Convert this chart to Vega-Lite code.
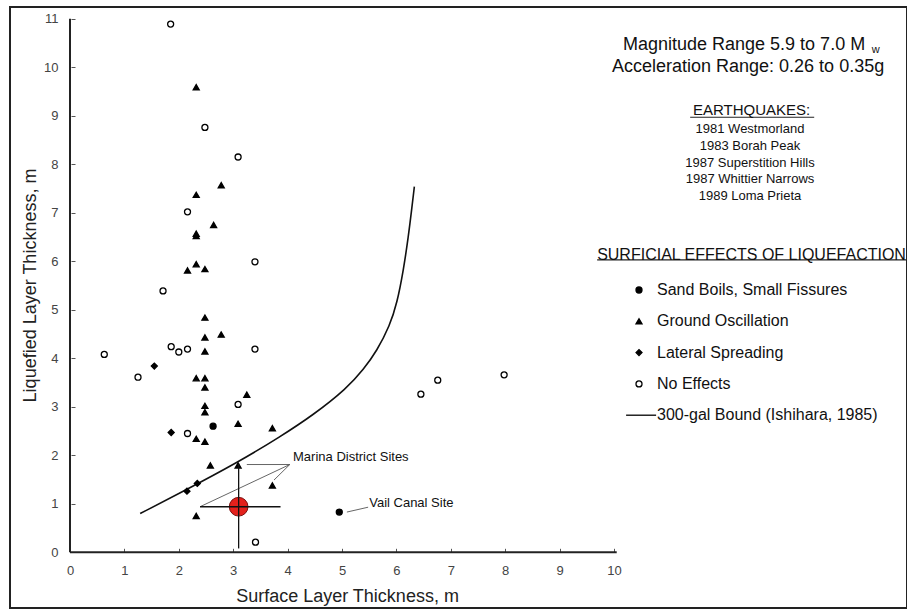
{
  "$schema": "https://vega.github.io/schema/vega-lite/v6.json",
  "width": 897,
  "height": 601,
  "autosize": {"type": "none"},
  "padding": {"left": 10, "top": 7, "right": 0, "bottom": 4},
  "background": "white",
  "config": {
    "view": {"stroke": "#222", "strokeWidth": 2},
    "font": "Liberation Sans"
  },
  "datasets": {
    "pts": [
      {"x": 1.85, "y": 10.89, "effect": "No Effects"},
      {"x": 2.48, "y": 8.76, "effect": "No Effects"},
      {"x": 3.09, "y": 8.15, "effect": "No Effects"},
      {"x": 2.16, "y": 7.02, "effect": "No Effects"},
      {"x": 3.40, "y": 5.99, "effect": "No Effects"},
      {"x": 1.71, "y": 5.39, "effect": "No Effects"},
      {"x": 0.63, "y": 4.08, "effect": "No Effects"},
      {"x": 1.86, "y": 4.24, "effect": "No Effects"},
      {"x": 2.00, "y": 4.13, "effect": "No Effects"},
      {"x": 2.16, "y": 4.19, "effect": "No Effects"},
      {"x": 3.40, "y": 4.19, "effect": "No Effects"},
      {"x": 1.25, "y": 3.61, "effect": "No Effects"},
      {"x": 3.09, "y": 3.05, "effect": "No Effects"},
      {"x": 2.16, "y": 2.45, "effect": "No Effects"},
      {"x": 3.41, "y": 0.21, "effect": "No Effects"},
      {"x": 6.45, "y": 3.26, "effect": "No Effects"},
      {"x": 6.76, "y": 3.55, "effect": "No Effects"},
      {"x": 7.98, "y": 3.66, "effect": "No Effects"},
      {"x": 2.32, "y": 9.59, "effect": "Ground Oscillation"},
      {"x": 2.78, "y": 7.57, "effect": "Ground Oscillation"},
      {"x": 2.32, "y": 7.37, "effect": "Ground Oscillation"},
      {"x": 2.64, "y": 6.75, "effect": "Ground Oscillation"},
      {"x": 2.32, "y": 6.52, "effect": "Ground Oscillation"},
      {"x": 2.32, "y": 6.57, "effect": "Ground Oscillation"},
      {"x": 2.32, "y": 5.94, "effect": "Ground Oscillation"},
      {"x": 2.16, "y": 5.81, "effect": "Ground Oscillation"},
      {"x": 2.48, "y": 5.84, "effect": "Ground Oscillation"},
      {"x": 2.48, "y": 4.84, "effect": "Ground Oscillation"},
      {"x": 2.48, "y": 4.43, "effect": "Ground Oscillation"},
      {"x": 2.78, "y": 4.49, "effect": "Ground Oscillation"},
      {"x": 2.48, "y": 4.14, "effect": "Ground Oscillation"},
      {"x": 2.32, "y": 3.59, "effect": "Ground Oscillation"},
      {"x": 2.48, "y": 3.59, "effect": "Ground Oscillation"},
      {"x": 2.48, "y": 3.40, "effect": "Ground Oscillation"},
      {"x": 3.25, "y": 3.25, "effect": "Ground Oscillation"},
      {"x": 2.48, "y": 3.02, "effect": "Ground Oscillation"},
      {"x": 2.48, "y": 2.89, "effect": "Ground Oscillation"},
      {"x": 3.09, "y": 2.65, "effect": "Ground Oscillation"},
      {"x": 3.72, "y": 2.56, "effect": "Ground Oscillation"},
      {"x": 2.32, "y": 2.34, "effect": "Ground Oscillation"},
      {"x": 2.48, "y": 2.28, "effect": "Ground Oscillation"},
      {"x": 2.58, "y": 1.79, "effect": "Ground Oscillation"},
      {"x": 3.09, "y": 1.79, "effect": "Ground Oscillation"},
      {"x": 3.72, "y": 1.38, "effect": "Ground Oscillation"},
      {"x": 2.32, "y": 0.75, "effect": "Ground Oscillation"},
      {"x": 1.55, "y": 3.84, "effect": "Lateral Spreading"},
      {"x": 1.86, "y": 2.47, "effect": "Lateral Spreading"},
      {"x": 2.34, "y": 1.42, "effect": "Lateral Spreading"},
      {"x": 2.15, "y": 1.26, "effect": "Lateral Spreading"},
      {"x": 2.63, "y": 2.60, "effect": "Sand Boils, Small Fissures"},
      {"x": 4.95, "y": 0.83, "effect": "Sand Boils, Small Fissures"}
    ],
    "bound": [
      {"x": 1.29, "y": 0.80},
      {"x": 2.02, "y": 1.22},
      {"x": 3.11, "y": 1.87},
      {"x": 3.86, "y": 2.38},
      {"x": 4.47, "y": 2.83},
      {"x": 5.09, "y": 3.38},
      {"x": 5.40, "y": 3.78},
      {"x": 5.64, "y": 4.15},
      {"x": 5.88, "y": 4.68},
      {"x": 6.01, "y": 5.13},
      {"x": 6.13, "y": 5.82},
      {"x": 6.22, "y": 6.51},
      {"x": 6.28, "y": 7.06},
      {"x": 6.33, "y": 7.54}
    ],
    "axislines": [
      {"x": 0, "y": 0, "x2": 10.05, "y2": 0},
      {"x": 0, "y": 0, "x2": 0, "y2": 11}
    ],
    "pointers": [
      {"x": 4.04, "y": 1.81, "x2": 3.25, "y2": 1.81},
      {"x": 4.04, "y": 1.81, "x2": 3.75, "y2": 1.49},
      {"x": 4.04, "y": 1.81, "x2": 2.39, "y2": 0.94},
      {"x": 5.09, "y": 0.83, "x2": 5.48, "y2": 0.93}
    ],
    "cross": [
      {"x": 2.39, "y": 0.94, "x2": 3.87, "y2": 0.94},
      {"x": 3.10, "y": 1.83, "x2": 3.10, "y2": 0.08}
    ],
    "underlines": [
      {"x": 11.40, "y": 8.97, "x2": 13.68, "y2": 8.97},
      {"x": 9.69, "y": 6.03, "x2": 15.38, "y2": 6.03}
    ],
    "marker": [{"x": 3.10, "y": 0.94}],
    "hdr": [
      {"x": 10.165, "y": 10.46, "text": "Magnitude Range 5.9 to 7.0 M"},
      {"x": 9.963, "y": 10.01, "text": "Acceleration Range: 0.26 to 0.35g"}
    ],
    "sub": [{"x": 14.74, "y": 10.36, "text": "w"}],
    "eqhead": [{"x": 12.53, "y": 9.12, "text": "EARTHQUAKES:"}],
    "eqlist": [
      {"x": 12.50, "y": 8.72, "text": "1981 Westmorland"},
      {"x": 12.50, "y": 8.37, "text": "1983 Borah Peak"},
      {"x": 12.50, "y": 8.02, "text": "1987 Superstition Hills"},
      {"x": 12.50, "y": 7.69, "text": "1987 Whittier Narrows"},
      {"x": 12.50, "y": 7.34, "text": "1989 Loma Prieta"}
    ],
    "legtitle": [{"x": 9.69, "y": 6.13, "text": "SURFICIAL EFFECTS OF LIQUEFACTION"}],
    "notes": [
      {"x": 4.10, "y": 1.96, "text": "Marina District Sites"},
      {"x": 5.50, "y": 1.01, "text": "Vail Canal Site"}
    ]
  },
  "encoding": {
    "x": {
      "field": "x", "type": "quantitative",
      "scale": {"domain": [-1.103, 15.386], "nice": false, "zero": false},
      "axis": {
        "values": [0, 1, 2, 3, 4, 5, 6, 7, 8, 9, 10],
        "domain": false, "grid": false, "offset": -55.7,
        "tickSize": -4, "tickColor": "#555", "tickWidth": 1,
        "labelPadding": 16, "labelFontSize": 13, "labelColor": "#444", "labelFont": "Liberation Sans",
        "labelFlush": false, "labelOverlap": false,
        "title": "Surface Layer Thickness, m", "titleFontSize": 18, "titleFontWeight": "normal",
        "titleFont": "Liberation Sans", "titleColor": "#222",
        "titleX": 337, "titleY": 44, "titleBaseline": "middle", "titleAlign": "center", "titleAngle": 0
      }
    },
    "y": {
      "field": "y", "type": "quantitative",
      "scale": {"domain": [-1.148, 11.243], "nice": false, "zero": false},
      "axis": {
        "values": [0, 1, 2, 3, 4, 5, 6, 7, 8, 9, 10, 11],
        "domain": false, "grid": false, "offset": -61,
        "tickSize": -4, "tickColor": "#555", "tickWidth": 1,
        "labelPadding": 17, "labelFontSize": 13, "labelColor": "#444", "labelFont": "Liberation Sans",
        "labelFlush": false, "labelOverlap": false,
        "title": "Liquefied Layer Thickness, m", "titleFontSize": 18, "titleFontWeight": "normal",
        "titleFont": "Liberation Sans", "titleColor": "#222",
        "titleX": -41, "titleY": 278, "titleBaseline": "middle", "titleAlign": "center", "titleAngle": -90
      }
    }
  },
  "layer": [
    {
      "data": {"name": "axislines"},
      "mark": {"type": "rule", "color": "#222", "strokeWidth": 2},
      "encoding": {"x2": {"field": "x2"}, "y2": {"field": "y2"}}
    },
    {
      "data": {"name": "bound"},
      "mark": {"type": "line", "color": "#111", "strokeWidth": 1.6, "interpolate": "basis"},
      "encoding": {}
    },
    {
      "data": {"name": "pts"},
      "mark": {"type": "point", "strokeWidth": 1.3, "opacity": 1, "size": 36},
      "encoding": {
        "shape": {
          "field": "effect", "type": "nominal",
          "scale": {
            "domain": ["Sand Boils, Small Fissures", "Ground Oscillation", "Lateral Spreading", "No Effects", "300-gal Bound (Ishihara, 1985)"],
            "range": ["circle", "triangle-up", "diamond", "circle", "M-4.3,0L5.7,0"]
          },
          "legend": {"orient": "none", "legendX": 621, "legendY": 275, "title": null, "padding": 0,
            "labelFontSize": 16, "labelFont": "Liberation Sans", "labelColor": "#111", "labelOffset": 10, "labelLimit": 0,
            "rowPadding": 15.3, "symbolSize": 36, "symbolStrokeWidth": 1.3}
        },
        "fill": {
          "field": "effect", "type": "nominal",
          "scale": {
            "domain": ["Sand Boils, Small Fissures", "Ground Oscillation", "Lateral Spreading", "No Effects", "300-gal Bound (Ishihara, 1985)"],
            "range": ["black", "black", "black", "white", "black"]
          },
          "legend": {"orient": "none", "legendX": 621, "legendY": 275, "title": null, "padding": 0,
            "labelFontSize": 16, "labelFont": "Liberation Sans", "labelColor": "#111", "labelOffset": 10, "labelLimit": 0,
            "rowPadding": 15.3, "symbolSize": 36, "symbolStrokeWidth": 1.3}
        },
        "stroke": {
          "field": "effect", "type": "nominal",
          "scale": {
            "domain": ["Sand Boils, Small Fissures", "Ground Oscillation", "Lateral Spreading", "No Effects", "300-gal Bound (Ishihara, 1985)"],
            "range": ["black", "black", "black", "black", "black"]
          },
          "legend": {"orient": "none", "legendX": 621, "legendY": 275, "title": null, "padding": 0,
            "labelFontSize": 16, "labelFont": "Liberation Sans", "labelColor": "#111", "labelOffset": 10, "labelLimit": 0,
            "rowPadding": 15.3, "symbolSize": 36, "symbolStrokeWidth": 1.3}
        }
      }
    },
    {
      "data": {"name": "pointers"},
      "mark": {"type": "rule", "color": "#555", "strokeWidth": 0.9},
      "encoding": {"x2": {"field": "x2"}, "y2": {"field": "y2"}}
    },
    {
      "data": {"name": "marker"},
      "mark": {"type": "point", "shape": "circle", "size": 350, "filled": true, "fill": "#e3211c", "stroke": "#7a1010", "strokeWidth": 1, "opacity": 1},
      "encoding": {}
    },
    {
      "data": {"name": "cross"},
      "mark": {"type": "rule", "color": "#111", "strokeWidth": 1.3},
      "encoding": {"x2": {"field": "x2"}, "y2": {"field": "y2"}}
    },
    {
      "data": {"name": "underlines"},
      "mark": {"type": "rule", "color": "#222", "strokeWidth": 1.2},
      "encoding": {"x2": {"field": "x2"}, "y2": {"field": "y2"}}
    },
    {
      "data": {"name": "hdr"},
      "mark": {"type": "text", "align": "left", "baseline": "middle", "fontSize": 18, "font": "Liberation Sans", "color": "#111"},
      "encoding": {"text": {"field": "text"}}
    },
    {
      "data": {"name": "sub"},
      "mark": {"type": "text", "align": "left", "baseline": "middle", "fontSize": 11, "font": "Liberation Sans", "color": "#111"},
      "encoding": {"text": {"field": "text"}}
    },
    {
      "data": {"name": "eqhead"},
      "mark": {"type": "text", "align": "center", "baseline": "middle", "fontSize": 15, "font": "Liberation Sans", "color": "#111"},
      "encoding": {"text": {"field": "text"}}
    },
    {
      "data": {"name": "eqlist"},
      "mark": {"type": "text", "align": "center", "baseline": "middle", "fontSize": 13, "font": "Liberation Sans", "color": "#111"},
      "encoding": {"text": {"field": "text"}}
    },
    {
      "data": {"name": "legtitle"},
      "mark": {"type": "text", "align": "left", "baseline": "middle", "fontSize": 16, "font": "Liberation Sans", "color": "#111"},
      "encoding": {"text": {"field": "text"}}
    },
    {
      "data": {"name": "notes"},
      "mark": {"type": "text", "align": "left", "baseline": "middle", "fontSize": 13, "font": "Liberation Sans", "color": "#111"},
      "encoding": {"text": {"field": "text"}}
    }
  ]
}
